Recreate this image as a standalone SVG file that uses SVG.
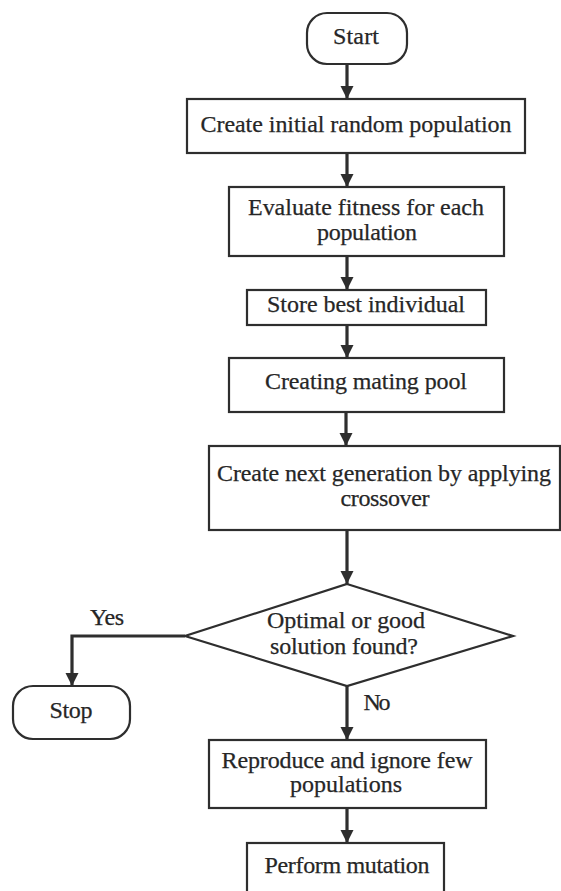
<svg xmlns="http://www.w3.org/2000/svg" width="561" height="891" viewBox="0 0 561 891">
<style>
.box{fill:#fff;stroke:#2e2e2e;stroke-width:2.2}
.t{font-family:"Liberation Serif","Times New Roman",serif;font-size:24px;fill:#262626;stroke:#262626;stroke-width:0.25;text-anchor:middle}
.c{fill:none;stroke:#2e2e2e;stroke-width:3.2}
</style>
<defs>
<marker id="ah" markerUnits="userSpaceOnUse" markerWidth="14" markerHeight="14" viewBox="0 0 14 14" refX="13" refY="7" orient="auto">
<path d="M0,0.5 L13,7 L0,13.5 Z" fill="#2e2e2e"/>
</marker>
</defs>
<rect width="561" height="891" fill="#fff"/>
<g id="connectors">
<line class="c" x1="347" y1="64" x2="347" y2="99" marker-end="url(#ah)"/>
<line class="c" x1="347" y1="153" x2="347" y2="187" marker-end="url(#ah)"/>
<line class="c" x1="347" y1="256" x2="347" y2="290" marker-end="url(#ah)"/>
<line class="c" x1="347" y1="325" x2="347" y2="358" marker-end="url(#ah)"/>
<line class="c" x1="346" y1="412" x2="346" y2="446" marker-end="url(#ah)"/>
<line class="c" x1="347" y1="530" x2="347" y2="584" marker-end="url(#ah)"/>
<path class="c" d="M185,636 H72 V686" marker-end="url(#ah)"/>
<line class="c" x1="347" y1="686" x2="347" y2="740" marker-end="url(#ah)"/>
<line class="c" x1="347" y1="808" x2="347" y2="843" marker-end="url(#ah)"/>
<text class="t" x="107" y="625" textLength="34">Yes</text>
<text class="t" x="377" y="710" textLength="27">No</text>
</g>
<g id="start">
<rect class="box" x="307" y="13" width="100" height="51" rx="20"/>
<text class="t" x="356" y="44" textLength="46">Start</text>
</g>
<g id="init">
<rect class="box" x="187" y="99" width="338" height="54"/>
<text class="t" x="356" y="132" textLength="311">Create initial random population</text>
</g>
<g id="evaluate">
<rect class="box" x="229" y="187" width="275" height="69"/>
<text class="t" x="366" y="215" textLength="236">Evaluate fitness for each</text>
<text class="t" x="367" y="240" textLength="100">population</text>
</g>
<g id="store">
<rect class="box" x="247" y="290" width="239" height="35"/>
<text class="t" x="366" y="312" textLength="198">Store best individual</text>
</g>
<g id="mating">
<rect class="box" x="229" y="358" width="275" height="54"/>
<text class="t" x="366" y="389" textLength="202">Creating mating pool</text>
</g>
<g id="crossover">
<rect class="box" x="209" y="446" width="351" height="84"/>
<text class="t" x="384" y="481" textLength="334">Create next generation by applying</text>
<text class="t" x="385" y="506" textLength="89">crossover</text>
</g>
<g id="decision">
<polygon class="box" points="347,584 513,636 347,686 185,636" stroke-width="1.8"/>
<text class="t" x="346" y="628" textLength="158">Optimal or good</text>
<text class="t" x="344" y="654" textLength="148">solution found?</text>
</g>
<g id="stop">
<rect class="box" x="13" y="686" width="117" height="53" rx="20"/>
<text class="t" x="71" y="718" textLength="43">Stop</text>
</g>
<g id="reproduce">
<rect class="box" x="209" y="740" width="277" height="68"/>
<text class="t" x="347" y="768" textLength="251">Reproduce and ignore few</text>
<text class="t" x="346" y="792" textLength="112">populations</text>
</g>
<g id="mutation">
<rect class="box" x="247" y="843" width="197" height="60"/>
<text class="t" x="347" y="873" textLength="165">Perform mutation</text>
</g>
</svg>
